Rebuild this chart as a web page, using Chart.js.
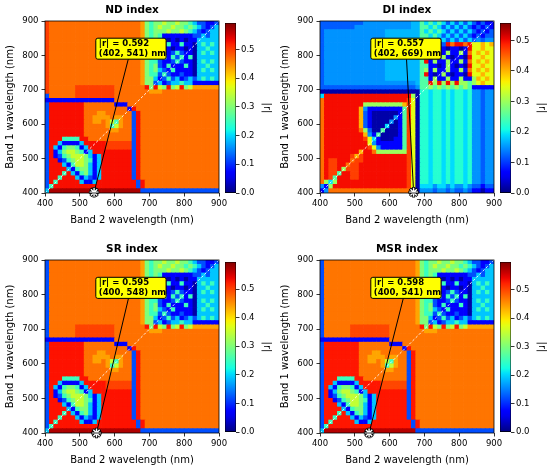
<!DOCTYPE html>
<html lang="en">
<head>
<meta charset="UTF-8">
<title>|r| maps of two-band indices</title>
<script src="https://cdn.jsdelivr.net/npm/chart.js"></script>
<style>
  body { margin: 0; background: #fff; }
  #wrap { position: relative; width: 550px; height: 470px; overflow: hidden; }
  canvas { position: absolute; }
</style>
</head>
<body>
<div id="wrap"></div>
<script>
const FONT = '"DejaVu Sans", sans-serif';
Chart.defaults.font.family = FONT;
Chart.defaults.color = '#000';

// cell grid: 12.5 nm steps, band centres 406.25 ... 893.75
const CELL_NM = 12.5;
const BAND_CENTERS = [406.25, 418.75, 431.25, 443.75, 456.25, 468.75, 481.25, 493.75, 506.25, 518.75,
  531.25, 543.75, 556.25, 568.75, 581.25, 593.75, 606.25, 618.75, 631.25, 643.75,
  656.25, 668.75, 681.25, 693.75, 706.25, 718.75, 731.25, 743.75, 756.25, 768.75,
  781.25, 793.75, 806.25, 818.75, 831.25, 843.75, 856.25, 868.75, 881.25, 893.75];

// one character per cell -> |r|
const LEVEL_CODES = '0123456789abcdef';
const LEVEL_VALUES = [0.02, 0.07, 0.12, 0.15, 0.19, 0.25, 0.30, 0.35, 0.40, 0.44, 0.47, 0.50, 0.53, 0.57, 0.17, 0.22];

const AXIS_TICKS = [400, 500, 600, 700, 800, 900];
const CBAR_TICKS = [0, 0.1, 0.2, 0.3, 0.4, 0.5];
const INDEX_NAMES = ['ND', 'DI', 'SR', 'MSR'];
const MAX_R = [0.592, 0.557, 0.595, 0.598];
const BEST_BAND1 = [402, 402, 400, 400];
const BEST_BAND2 = [541, 669, 548, 541];

// rows: band 1 from 900 (top) down to 400, columns: band 2 from 400 to 900
const ND_ROWS = [
  "baaaaaaaaaaaaaaaaaaaaa965667667665422112",
  "baaaaaaaaaaaaaaaaaaaaa965676676656542124",
  "baaaaaaaaaaaaaaaaaaaaa965666766765421244",
  "baaaaaaaaaaaaaaaaaaaaa965651111111224244",
  "baaaaaaaaaaaaaaaaaaaaa965641010101144444",
  "baaaaaaaaaaaaaaaaaaaaa965641511511045454",
  "baaaaaaaaaaaaaaaaaaaaa965641101101044544",
  "baaaaaaaaaaaaaaaaaaaaa965541125211045454",
  "baaaaaaaaaaaaaaaaaaaaa965545152515044444",
  "baaaaaaaaaaaaaaaaaaaaa965521125211045454",
  "baaaaaaaaaaaaaaaaaaaaa965621511151044544",
  "baaaaaaaaaaaaaaaaaaaaa965642151111045454",
  "baaaaaaaaaaaaaaaaaaaaa965525211211044444",
  "baaaaaaaaaaaaaaaaaaaaa966412524124245454",
  "baaaaaaaaaaaaaaaaaaaaa966241244544111111",
  "baaaaaabbbbbbbbbaaaaaaac6c76c67c67999999",
  "baaaaaabbbbbbbbbaaaaaaaa999aaaaaaaaaaaaa",
  "2aaaaaabbbbbbbbbaaaaaaaaaaaaaaaaaaaaaaaa",
  "1111111111111111aaaaaaaaaaaaaaaaaaaaaaaa",
  "2ccccccccaaaaaaa111aaaaaaaaaaaaaaaaaaaaa",
  "2ccccccccaaaaaaaaaa1caaaaaaaaaaaaaaaaaaa",
  "2ccccccccaaa99aaaaaa2caaaaaaaaaaaaaaaaaa",
  "2ccccccccaa9999a99aa2caaaaaaaaaaaaaaaaaa",
  "2ccccccccaa99a9759aa2caaaaaaaaaaaaaaaaaa",
  "2ccccccccaaaaa9579aa2caaaaaaaaaaaaaaaaaa",
  "2ccccccccaaaaaa99aaa2caaaaaaaaaaaaaaaaaa",
  "2ccccccccaaaaaaaaaaa2caaaaaaaaaaaaaaaaaa",
  "2ccc5555ccaaaaaaaaaa2caaaaaaaaaaaaaaaaaa",
  "2cc411114cccccbbbbbb2caaaaaaaaaaaaaaaaaa",
  "2c41566514ccccbbbbbb2caaaaaaaaaaaaaaaaaa",
  "2c146776514ccccccccc2caaaaaaaaaaaaaaaaaa",
  "2c12567776414ccccccc2caaaaaaaaaaaaaaaaaa",
  "2cc1256776514ccccccc2caaaaaaaaaaaaaaaaaa",
  "2ccc415776414ccccccc2caaaaaaaaaaaaaaaaaa",
  "2cccc41566414ccccccc2caaaaaaaaaaaaaaaaaa",
  "2ccc5c4156414ccccccc2caaaaaaaaaaaaaaaaaa",
  "2cc5ccc414214ccccccc2caaaaaaaaaaaaaaaaaa",
  "2c5ccccc4114ccccccccc2caaaaaaaaaaaaaaaaa",
  "25ccccccccccccccccccc2caaaaaaaaaaaaaaaaa",
  "4ddddddddddddddddddddd222222222222222222"
];

const DI_ROWS = [
  "222222222233333333333ee54545424242421211",
  "222222223333333333333ee55454242424212121",
  "233333333333333eeeeeeee54545424242421212",
  "233333333333333eeeeeeee55454242424212122",
  "233333333333333eeeeeeee54542424242423233",
  "233333333333333eeeeeeee554212b9bb9b77878",
  "233333333333333eeeeeeee55101101101b77877",
  "233333333333333eeeeeeee56161161161978787",
  "233333333333333eeeeeeee55101610110b77877",
  "233333333333333eeeeeeee5b161161161978787",
  "233333333333333eeeeeeee55110161010b77877",
  "233333333333333eeeeeeee56161161161978787",
  "233333333333333eeeeeeee5b101610110b77877",
  "233333333333333eeeeeeee55161161161168787",
  "2333333333333333333333e55b6b6b6b66567877",
  "2222222222222222222222355656565656511111",
  "00000000000000000000000ff4ff4f4ff4f33233",
  "4bbbbbbbbbbbbbbbbbbbb60ff4ff4f4ff4f33233",
  "9bbbbbbbbbbbbbbbbbbba70ff4ff4f4ff4f33233",
  "9bbbbbbbbb6666666668a70ff4ff4f4ff4f33233",
  "9bbbbbbbb83111111115a70ff4ff4f4ff4f33233",
  "9bbbbbbbb82100000015a70ff4ff4f4ff4f33233",
  "9bbbbbbbb82100000315a70ff4ff4f4ff4f33233",
  "9bbbbbbbb82100003015a70ff4ff4f4ff4f33233",
  "9bbbbbbbb82100040015a70ff4ff4f4ff4f33233",
  "9bbbbbbbb96200500015a70ff4ff4f4ff4f33233",
  "9bbbbbbbbb8315000015a70ff4ff4f4ff4f33233",
  "9bbbbbbbbba741000115a70ff4ff4f4ff4f33233",
  "9bbbbbbbbbb731111115a70ff4ff4f4ff4f33233",
  "9bbbbbbbbbba73111115a70ff4ff4f4ff4f33233",
  "9bbbbbbbb8bb96666666a70ff4ff4f4ff4f33233",
  "9bbbbbba8abbbbbbbbbba70ff4ff4f4ff4f33233",
  "9baabbb9aabbbbbbbbbba70ff4ff4f4ff4f33233",
  "9baabb9aabbbbbbbbbbba70ff4ff4f4ff4f33233",
  "9baab6aaabbbbbbbbbbba70ff4ff4f4ff4f33233",
  "9baa5bbaabbbbbbbbbbba70ff4ff4f4ff4f33233",
  "9ba5bbbaabbbbbbbbbbba70ff4ff4f4ff4f33233",
  "9646bbbbbbbbbbbbbbbba70ff4ff4f4ff4f33233",
  "316bbbbbbbbbbbbbbbbba7044434434334322122",
  "1399999999999999999991033323323223211011"
];

const SR_ROWS = [
  "2aaaaaaaaaaaaaaaaaaaaa965667667665422112",
  "2aaaaaaaaaaaaaaaaaaaaa965676676656542124",
  "2aaaaaaaaaaaaaaaaaaaaa965666766765421244",
  "2aaaaaaaaaaaaaaaaaaaaa965651111111224244",
  "2aaaaaaaaaaaaaaaaaaaaa965641010101144444",
  "2aaaaaaaaaaaaaaaaaaaaa965641511511045454",
  "2aaaaaaaaaaaaaaaaaaaaa965641101101044544",
  "2aaaaaaaaaaaaaaaaaaaaa965541125211045454",
  "2aaaaaaaaaaaaaaaaaaaaa965545152515044444",
  "2aaaaaaaaaaaaaaaaaaaaa965521125211045454",
  "2aaaaaaaaaaaaaaaaaaaaa965621511151044544",
  "2aaaaaaaaaaaaaaaaaaaaa965642151111045454",
  "2aaaaaaaaaaaaaaaaaaaaa965525211211044444",
  "2aaaaaaaaaaaaaaaaaaaaa966412524124245454",
  "2aaaaaaaaaaaaaaaaaaaaa966241244544111111",
  "2aaaaaabbbbbbbbbaaaaaaac6c76c67c67999999",
  "2aaaaaabbbbbbbbbaaaaaaaa999aaaaaaaaaaaaa",
  "2aaaaaabbbbbbbbbaaaaaaaaaaaaaaaaaaaaaaaa",
  "1111111111111111aaaaaaaaaaaaaaaaaaaaaaaa",
  "2ccccccccaaaaaaa111aaaaaaaaaaaaaaaaaaaaa",
  "2ccccccccaaaaaaaaaa1caaaaaaaaaaaaaaaaaaa",
  "2ccccccccaaa99aaaaaa2caaaaaaaaaaaaaaaaaa",
  "2ccccccccaa9999a99aa2caaaaaaaaaaaaaaaaaa",
  "2ccccccccaa99a9759aa2caaaaaaaaaaaaaaaaaa",
  "2ccccccccaaaaa9579aa2caaaaaaaaaaaaaaaaaa",
  "2ccccccccaaaaaa99aaa2caaaaaaaaaaaaaaaaaa",
  "2ccccccccaaaaaaaaaaa2caaaaaaaaaaaaaaaaaa",
  "2ccc5555ccaaaaaaaaaa2caaaaaaaaaaaaaaaaaa",
  "2cc411114cccccbbbbbb2caaaaaaaaaaaaaaaaaa",
  "2c41566514ccccbbbbbb2caaaaaaaaaaaaaaaaaa",
  "2c146776514ccccccccc2caaaaaaaaaaaaaaaaaa",
  "2c12567776414ccccccc2caaaaaaaaaaaaaaaaaa",
  "2cc1256776514ccccccc2caaaaaaaaaaaaaaaaaa",
  "2ccc415776414ccccccc2caaaaaaaaaaaaaaaaaa",
  "2cccc41566414ccccccc2caaaaaaaaaaaaaaaaaa",
  "2ccc5c4156414ccccccc2caaaaaaaaaaaaaaaaaa",
  "2cc5ccc414214ccccccc2caaaaaaaaaaaaaaaaaa",
  "2c5ccccc4114ccccccccc2caaaaaaaaaaaaaaaaa",
  "25ccccccccccccccccccc2caaaaaaaaaaaaaaaaa",
  "4ddddddddddddddddddddd222222222222222222"
];

const MSR_ROWS = [
  "2aaaaaaaaaaaaaaaaaaaaa965667667665422112",
  "2aaaaaaaaaaaaaaaaaaaaa965676676656542124",
  "2aaaaaaaaaaaaaaaaaaaaa965666766765421244",
  "2aaaaaaaaaaaaaaaaaaaaa965651111111224244",
  "2aaaaaaaaaaaaaaaaaaaaa965641010101144444",
  "2aaaaaaaaaaaaaaaaaaaaa965641511511045454",
  "2aaaaaaaaaaaaaaaaaaaaa965641101101044544",
  "2aaaaaaaaaaaaaaaaaaaaa965541125211045454",
  "2aaaaaaaaaaaaaaaaaaaaa965545152515044444",
  "2aaaaaaaaaaaaaaaaaaaaa965521125211045454",
  "2aaaaaaaaaaaaaaaaaaaaa965621511151044544",
  "2aaaaaaaaaaaaaaaaaaaaa965642151111045454",
  "2aaaaaaaaaaaaaaaaaaaaa965525211211044444",
  "2aaaaaaaaaaaaaaaaaaaaa966412524124245454",
  "2aaaaaaaaaaaaaaaaaaaaa966241244544111111",
  "2aaaaaabbbbbbbbbaaaaaaac6c76c67c67999999",
  "2aaaaaabbbbbbbbbaaaaaaaa999aaaaaaaaaaaaa",
  "2aaaaaabbbbbbbbbaaaaaaaaaaaaaaaaaaaaaaaa",
  "1111111111111111aaaaaaaaaaaaaaaaaaaaaaaa",
  "2ccccccccaaaaaaa111aaaaaaaaaaaaaaaaaaaaa",
  "2ccccccccaaaaaaaaaa1caaaaaaaaaaaaaaaaaaa",
  "2ccccccccaaa99aaaaaa2caaaaaaaaaaaaaaaaaa",
  "2ccccccccaa9999a99aa2caaaaaaaaaaaaaaaaaa",
  "2ccccccccaa99a9759aa2caaaaaaaaaaaaaaaaaa",
  "2ccccccccaaaaa9579aa2caaaaaaaaaaaaaaaaaa",
  "2ccccccccaaaaaa99aaa2caaaaaaaaaaaaaaaaaa",
  "2ccccccccaaaaaaaaaaa2caaaaaaaaaaaaaaaaaa",
  "2ccc5555ccaaaaaaaaaa2caaaaaaaaaaaaaaaaaa",
  "2cc411114cccccbbbbbb2caaaaaaaaaaaaaaaaaa",
  "2c41566514ccccbbbbbb2caaaaaaaaaaaaaaaaaa",
  "2c146776514ccccccccc2caaaaaaaaaaaaaaaaaa",
  "2c12567776414ccccccc2caaaaaaaaaaaaaaaaaa",
  "2cc1256776514ccccccc2caaaaaaaaaaaaaaaaaa",
  "2ccc415776414ccccccc2caaaaaaaaaaaaaaaaaa",
  "2cccc41566414ccccccc2caaaaaaaaaaaaaaaaaa",
  "2ccc5c4156414ccccccc2caaaaaaaaaaaaaaaaaa",
  "2cc5ccc414214ccccccc2caaaaaaaaaaaaaaaaaa",
  "2c5ccccc4114ccccccccc2caaaaaaaaaaaaaaaaa",
  "25ccccccccccccccccccc2caaaaaaaaaaaaaaaaa",
  "4ddddddddddddddddddddd222222222222222222"
];

const ALL_ROWS = [ND_ROWS, DI_ROWS, SR_ROWS, MSR_ROWS];

// page layout (pixels) and the callout box position (data units)
const PANELS = [
  { left: 0,   top: 0,   h: 235 },
  { left: 275, top: 0,   h: 235 },
  { left: 0,   top: 239, h: 236 },
  { left: 275, top: 239, h: 236 }
];
const CALLOUT_BOX = [546, 748, 789, 850];

// matplotlib "jet"
function jet(t) {
  t = Math.min(1, Math.max(0, t));
  const seg = pts => {
    for (let k = 1; k < pts.length; k++) {
      if (t <= pts[k][0]) {
        const [x0, y0] = pts[k - 1], [x1, y1] = pts[k];
        return y0 + (y1 - y0) * (t - x0) / (x1 - x0);
      }
    }
    return pts[pts.length - 1][1];
  };
  const r = seg([[0, 0], [0.35, 0], [0.66, 1], [0.89, 1], [1, 0.5]]);
  const g = seg([[0, 0], [0.125, 0], [0.375, 1], [0.64, 1], [0.91, 0], [1, 0]]);
  const b = seg([[0, 0.5], [0.11, 1], [0.34, 1], [0.65, 0], [1, 0]]);
  return `rgb(${Math.round(r * 255)},${Math.round(g * 255)},${Math.round(b * 255)})`;
}

function toCells(rows) {
  const n = BAND_CENTERS.length;
  const out = [];
  rows.forEach((row, k) => {
    const line = row.padEnd(n, row[row.length - 1]).slice(0, n);
    for (let j = 0; j < n; j++) {
      out.push({ x: BAND_CENTERS[j], y: BAND_CENTERS[n - 1 - k], v: LEVEL_VALUES[LEVEL_CODES.indexOf(line[j])] });
    }
  });
  return out;
}

const cellRadius = ctx => {
  const { x, y } = ctx.chart.scales;
  const w = Math.abs(x.getPixelForValue(400 + CELL_NM) - x.getPixelForValue(400));
  const h = Math.abs(y.getPixelForValue(400 + CELL_NM) - y.getPixelForValue(400));
  return (Math.max(w, h) + 0.7) / Math.SQRT2;
};

const calloutPlugin = {
  id: 'callout',
  afterDatasetsDraw(chart, args, opts) {
    const { ctx, chartArea: a, scales: { x, y } } = chart;
    ctx.save();
    ctx.strokeStyle = '#000';
    ctx.lineWidth = 0.8;
    ctx.strokeRect(a.left, a.top, a.right - a.left, a.bottom - a.top);
    const l = x.getPixelForValue(opts.box[0]);
    const r = x.getPixelForValue(opts.box[1]);
    const t = y.getPixelForValue(opts.box[3]);
    const b = y.getPixelForValue(opts.box[2]);
    ctx.beginPath();
    if (ctx.roundRect) ctx.roundRect(l, t, r - l, b - t, 2); else ctx.rect(l, t, r - l, b - t);
    ctx.fillStyle = '#ffff00';
    ctx.fill();
    ctx.lineWidth = 1;
    ctx.stroke();
    ctx.fillStyle = '#000';
    ctx.font = 'bold 8.5px ' + FONT;
    ctx.textBaseline = 'middle';
    opts.lines.forEach((s, k) => ctx.fillText(s, l + 3, t + 5.8 + k * 9.8));
    ctx.restore();
  }
};

function axis(title, isX) {
  return {
    type: 'linear',
    min: 400,
    max: 900,
    afterBuildTicks: s => { s.ticks = AXIS_TICKS.map(v => ({ value: v })); },
    ticks: { font: { size: 8.5 }, color: '#000', padding: isX ? 2 : 3, maxRotation: 0, autoSkip: false },
    grid: { drawOnChartArea: false, tickLength: 3.5, color: '#000', lineWidth: 0.8 },
    border: { display: false },
    title: { display: true, text: title, font: { size: 10 }, color: '#000',
             padding: isX ? { top: 2, bottom: 9 } : { top: 4, bottom: 2 } },
    afterFit: s => {
      if (isX) { s.height = 42; s.paddingLeft = 0; s.paddingRight = 0; }
      else { s.width = 45; s.paddingTop = 0; s.paddingBottom = 0; }
    }
  };
}

const wrap = document.getElementById('wrap');
function addCanvas(left, top, w, h) {
  const c = document.createElement('canvas');
  c.width = w; c.height = h;
  c.style.left = left + 'px'; c.style.top = top + 'px';
  c.style.width = w + 'px'; c.style.height = h + 'px';
  wrap.appendChild(c);
  return c;
}

PANELS.forEach((p, i) => {
  const vmax = MAX_R[i];
  const target = { x: BEST_BAND2[i], y: BEST_BAND1[i] };
  const start = { x: (CALLOUT_BOX[0] + CALLOUT_BOX[1]) / 2, y: (CALLOUT_BOX[2] + CALLOUT_BOX[3]) / 2 };

  const arrowRotation = ctx => {
    const { x, y } = ctx.chart.scales;
    const dx = x.getPixelForValue(target.x) - x.getPixelForValue(start.x);
    const dy = y.getPixelForValue(target.y) - y.getPixelForValue(start.y);
    return Math.atan2(dx, -dy) * 180 / Math.PI;
  };

  new Chart(addCanvas(p.left, p.top, 230, p.h), {
    type: 'scatter',
    data: {
      datasets: [
        { data: [target], pointStyle: 'star', pointRadius: 4.5, borderColor: '#fff', borderWidth: 1.4, clip: false, order: 1 },
        { data: [target], pointStyle: 'star', pointRadius: 5.2, borderColor: '#000', borderWidth: 3, clip: false, order: 2 },
        { data: [start, target], showLine: true, borderColor: '#000', borderWidth: 1,
          pointRadius: [0, 3.5], pointStyle: 'triangle', pointBackgroundColor: '#000', pointBorderWidth: 0,
          pointRotation: arrowRotation, clip: false, order: 3 },
        { data: [{ x: 400, y: 400 }, { x: 900, y: 900 }], showLine: true, borderColor: '#fff', borderWidth: 0.9,
          borderDash: [2.5, 2], pointRadius: 0, order: 4 },
        { data: toCells(ALL_ROWS[i]), pointStyle: 'rect', pointRadius: cellRadius, pointBorderWidth: 0,
          pointBackgroundColor: ctx => ctx.raw ? jet(ctx.raw.v / vmax) : '#000', clip: 0, order: 5 }
      ]
    },
    options: {
      responsive: false,
      animation: false,
      events: [],
      layout: { padding: { top: 0.4, right: 11, bottom: 0, left: 0 } },
      plugins: {
        legend: { display: false },
        tooltip: { enabled: false },
        title: { display: true, text: INDEX_NAMES[i] + ' index', fullSize: false, color: '#000',
                 font: { size: 10.5, weight: 'bold' }, padding: { top: 4, bottom: 4 } },
        callout: {
          box: CALLOUT_BOX,
          lines: ['|r| = ' + MAX_R[i].toFixed(3), '(' + BEST_BAND1[i] + ', ' + BEST_BAND2[i] + ') nm']
        }
      },
      scales: {
        x: axis('Band 2 wavelength (nm)', true),
        y: axis('Band 1 wavelength (nm)', false)
      }
    },
    plugins: [calloutPlugin]
  });

  // colour bar
  new Chart(addCanvas(p.left + 225, p.top, 50, p.h), {
    type: 'bar',
    data: {
      labels: ['|r|'],
      datasets: [{
        data: [vmax],
        barPercentage: 1,
        categoryPercentage: 1,
        borderColor: '#000',
        borderWidth: 0.8,
        borderSkipped: false,
        backgroundColor: ctx => {
          const a = ctx.chart.chartArea;
          if (!a) return 'rgba(0,0,0,0)';
          const g = ctx.chart.ctx.createLinearGradient(0, a.bottom, 0, a.top);
          for (let k = 0; k <= 32; k++) g.addColorStop(k / 32, jet(k / 32));
          return g;
        }
      }]
    },
    options: {
      responsive: false,
      animation: false,
      events: [],
      layout: { padding: { top: 23, bottom: p.h - 193, left: 0, right: 0 } },
      plugins: { legend: { display: false }, tooltip: { enabled: false } },
      scales: {
        x: { display: false },
        y: {
          position: 'right',
          min: 0,
          max: vmax,
          afterBuildTicks: s => { s.ticks = CBAR_TICKS.map(v => ({ value: v })); },
          ticks: { font: { size: 8.5 }, color: '#000', padding: 1.5, callback: v => v.toFixed(1) },
          grid: { drawOnChartArea: false, tickLength: 3.5, color: '#000', lineWidth: 0.8 },
          border: { display: false },
          title: { display: true, text: '|r|', font: { size: 10 }, color: '#000', padding: { top: 2.3, bottom: 0 } },
          afterFit: s => { s.width = 39; s.paddingTop = 0; s.paddingBottom = 0; }
        }
      }
    }
  });
});
</script>
</body>
</html>
